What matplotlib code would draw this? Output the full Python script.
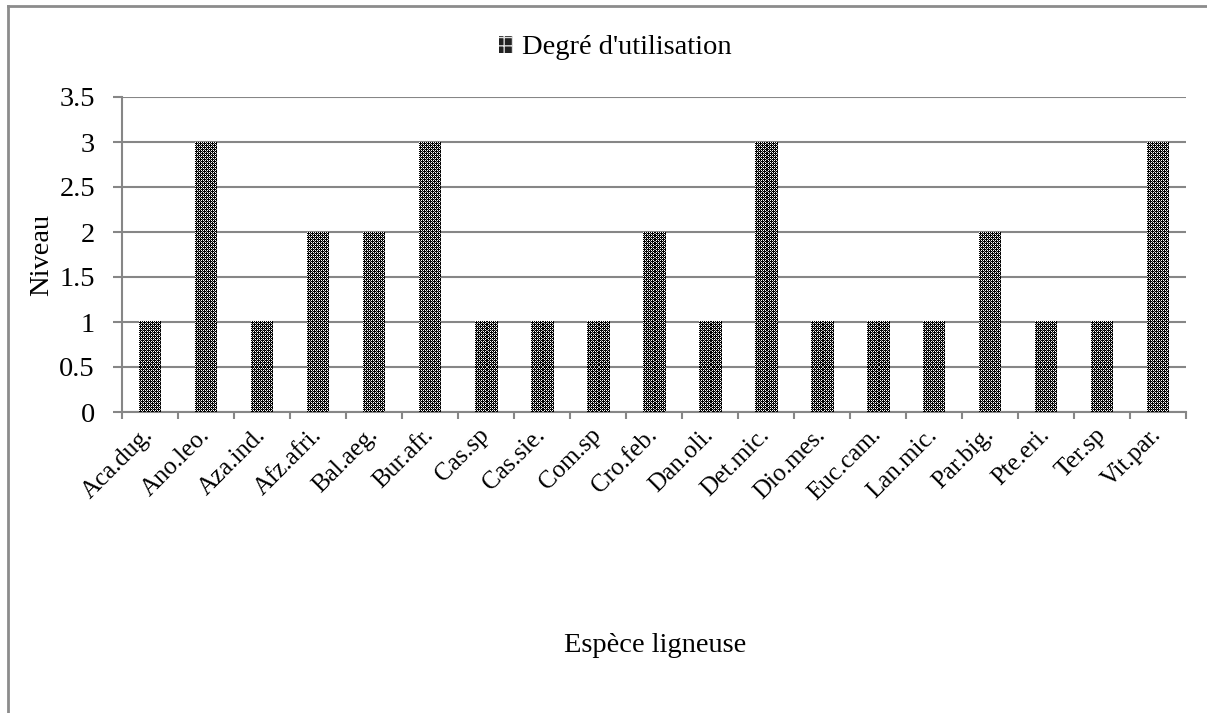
import numpy as np
import matplotlib
matplotlib.use("Agg")
import matplotlib.pyplot as plt
import matplotlib.transforms as mtransforms
from matplotlib.lines import Line2D
from matplotlib.patches import Rectangle

especes = ["Aca.dug.", "Ano.leo.", "Aza.ind.", "Afz.afri.", "Bal.aeg.", "Bur.afr.",
           "Cas.sp", "Cas.sie.", "Com.sp", "Cro.feb.", "Dan.oli.", "Det.mic.",
           "Dio.mes.", "Euc.cam.", "Lan.mic.", "Par.big.", "Pte.eri.", "Ter.sp",
           "Vit.par."]
degre = [1, 3, 1, 2, 2, 3, 1, 1, 1, 2, 1, 3, 1, 1, 1, 2, 1, 1, 3]
y_ticks = [0, 0.5, 1, 1.5, 2, 2.5, 3, 3.5]
y_labels = ["0", "0.5", "1", "1.5", "2", "2.5", "3", "3.5"]

plt.rcParams["font.family"] = ["Liberation Serif", "DejaVu Serif"]
plt.rcParams["font.size"] = 20.5

W, H = 1207, 713
fig = plt.figure(figsize=(W / 100, H / 100), dpi=100)
ax = fig.add_axes([122 / W, (H - 412) / H, 1064 / W, 315 / H])

grey = "#868686"
x = np.arange(len(especes))
ax.set_xlim(-0.5, len(especes) - 0.5)
ax.set_ylim(0, 3.5)
bars = ax.bar(x, degre, width=0.41, color="white", linewidth=0, zorder=2)

# dark checkered cross fill, one value per screen pixel
tile = np.array([
    [1.0, 0.0, 1.0, 0.0],
    [0.0, 0.0, 0.0, 0.6],
    [1.0, 0.0, 1.0, 0.0],
    [0.0, 0.6, 0.0, 0.0],
])
inv = ax.transData.inverted()
for b in bars:
    x0, y0, w, h = b.get_x(), b.get_y(), b.get_width(), b.get_height()
    (px0, py0), (px1, py1) = ax.transData.transform([(x0, y0), (x0 + w, y0 + h)])
    px0, px1, py0, py1 = (round(v) for v in (px0, px1, py0, py1))
    nw, nh = max(1, px1 - px0), max(1, py1 - py0)
    img = np.tile(tile, (nh // 4 + 2, nw // 4 + 2))[:nh, :nw]
    (dx0, dy0), (dx1, dy1) = inv.transform([(px0, py0), (px1, py1)])
    ax.imshow(img, cmap="gray", vmin=0, vmax=1, extent=(dx0, dx1, dy0, dy1),
              interpolation="nearest", aspect="auto", zorder=3)

ax.set_xlim(-0.5, len(especes) - 0.5)
ax.set_ylim(0, 3.5)

ax.set_yticks(y_ticks)
ax.set_yticklabels(y_labels)
ax.yaxis.grid(True, color=grey, linewidth=1.5)
ax.set_axisbelow(True)

ax.set_xticks(x)
ax.set_xticklabels(especes, rotation=45, ha="right", va="center",
                   rotation_mode="anchor", fontsize=18)
shift = mtransforms.ScaledTranslation(11 / 72, 0, fig.dpi_scale_trans)
for lbl in ax.get_xticklabels():
    lbl.set_transform(lbl.get_transform() + shift)
ax.set_xticks(np.arange(-0.5, len(especes)), minor=True)
ax.tick_params(axis="x", which="major", length=0, pad=14)
ax.tick_params(axis="x", which="minor", length=5, width=1.5, color=grey,
               direction="out")
ax.tick_params(axis="y", length=6.5, width=1.5, color=grey, pad=13)

for s in ["top", "right"]:
    ax.spines[s].set_visible(False)
for s in ["left", "bottom"]:
    ax.spines[s].set_color(grey)
    ax.spines[s].set_linewidth(1.5)

fig.text(655 / W, 1 - 645 / H, "Espèce ligneuse", ha="center", va="center")
fig.text(42 / W, 1 - 255 / H, "Niveau", ha="center", va="center", rotation=90)

handle = Rectangle((0, 0), 1, 1, facecolor="#222222", edgecolor="#dddddd",
                   hatch="++", linewidth=0)
fig.legend([handle], ["Degré d'utilisation"], loc="center",
           bbox_to_anchor=(615 / W, 1 - 48 / H), frameon=False,
           handlelength=0.5, handleheight=0.5, handletextpad=0.3)

# outer chart frame
fig.add_artist(Line2D([7.5 / W, 7.5 / W], [0, 1 - 5.5 / H], transform=fig.transFigure,
                      color="#8c8c8c", linewidth=2))
fig.add_artist(Line2D([7.5 / W, 1], [1 - 5.5 / H, 1 - 5.5 / H], transform=fig.transFigure,
                      color="#8c8c8c", linewidth=2))

fig.savefig("out.png", dpi=100)
